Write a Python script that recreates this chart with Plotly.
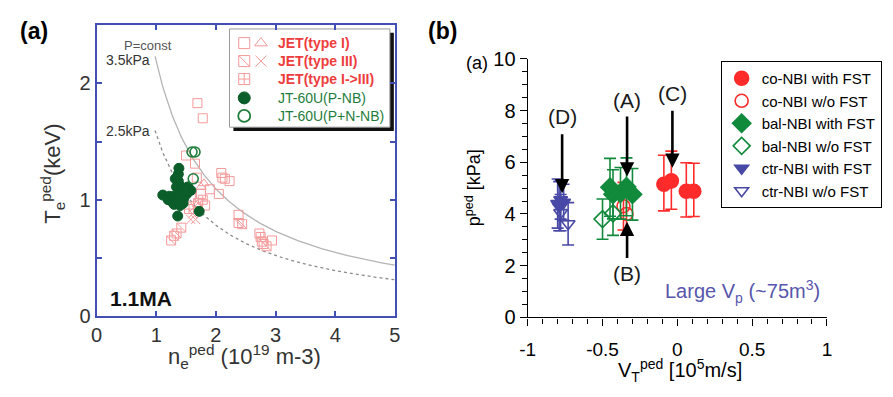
import numpy as np
import plotly.graph_objects as go

W, H = 893, 397
FONT = "Liberation Sans"

# ---------------- Panel (a): JET / JT-60U pedestal data ----------------
jet1_sq_n = [1.69, 1.78, 1.50, 1.65, 2.09, 2.15, 2.23, 1.90, 2.05, 1.75, 1.82, 2.38, 2.73, 2.94, 1.68, 1.58, 1.50, 2.11, 2.80]
jet1_sq_T = [1.83, 1.70, 1.38, 1.31, 1.23, 1.18, 1.16, 1.09, 1.05, 1.05, 0.95, 0.87, 0.71, 0.65, 1.19, 1.02, 1.06, 1.19, 0.62]
jet1_tri_n = [1.75, 1.69, 1.80]
jet1_tri_T = [1.11, 0.96, 1.14]
jet3_sq_n = [1.25, 1.34, 1.42, 1.30, 2.38, 2.44, 2.77, 2.85, 1.70]
jet3_sq_T = [0.65, 0.71, 0.76, 0.69, 0.80, 0.79, 0.64, 0.60, 0.97]
jet3_x_n = [1.58, 1.66, 1.61, 1.64]
jet3_x_T = [0.83, 0.83, 0.88, 0.94]
jet13_n = [1.78, 1.55, 2.75]
jet13_T = [1.00, 0.92, 0.68]
jt_pnb_n = [1.38, 1.37, 1.32, 1.37, 1.34, 1.42, 1.53, 1.11, 1.22, 1.30, 1.40, 1.51, 1.25, 1.37,
            1.45, 1.30, 1.40, 1.72, 1.36, 1.58, 1.46, 1.20, 1.48]
jt_pnb_T = [1.27, 1.22, 1.18, 1.16, 1.11, 1.11, 1.11, 1.04, 1.03, 1.03, 1.04, 1.05, 0.99, 0.99,
            0.97, 0.96, 0.95, 0.90, 0.86, 1.08, 1.01, 1.00, 1.08]
jt_pnnb_n = [1.60, 1.65, 1.62]
jt_pnnb_T = [1.41, 1.41, 1.18]

isobar_kpa = [3.5, 2.5]
isobar_labels = ["3.5kPa", "2.5kPa"]
isobar_n_start = 0.98
kpa_per_nT = 1.6  # 1e19 m^-3 * keV = 1.6 kPa

a_xticks = [0, 1, 2, 3, 4, 5]
a_yticks = [0, 1, 2]

a_legend_labels = ["JET(type I)", "JET(type III)", "JET(type I->III)", "JT-60U(P-NB)", "JT-60U(P+N-NB)"]

# ---------------- Panel (b): pedestal pressure vs toroidal rotation ----------------
co_fst_v = [-0.09, -0.04, 0.06, 0.11]
co_fst_p = [5.15, 5.28, 4.88, 4.88]
co_fst_eu = [1.12, 1.15, 1.10, 1.08]
co_fst_ed = [1.03, 1.10, 1.00, 0.98]

co_wo_v = [-0.36, -0.34]
co_wo_p = [4.30, 4.00]
co_wo_e = [0.92, 0.82]

bal_fst_v = [-0.45, -0.43, -0.38, -0.34, -0.30]
bal_fst_p = [5.03, 4.76, 4.80, 5.05, 4.76]
bal_fst_e = [1.12, 0.95, 1.00, 1.12, 1.00]

bal_wo_v = [-0.50, -0.43]
bal_wo_p = [3.80, 4.02]
bal_wo_e = [0.78, 0.85]

ctr_fst_v = [-0.80, -0.78, -0.76, -0.79]
ctr_fst_p = [4.40, 4.55, 4.45, 4.30]
ctr_fst_e = [0.95, 0.75, 0.70, 0.95]

ctr_wo_v = [-0.78, -0.73]
ctr_wo_p = [4.05, 3.62]
ctr_wo_e = [0.70, 0.82]

b_xticks = [-1, -0.5, 0, 0.5, 1]
b_xticktext = ["-1", "-0.5", "0", "0.5", "1"]
b_yticks = [0, 2, 4, 6, 8, 10]

# arrows: label, label position, tail, tip
arrow_labels = ["(D)", "(A)", "(C)", "(B)"]
arrow_label_v = [-0.77, -0.336, -0.033, -0.336]
arrow_label_p = [7.76, 8.38, 8.68, 1.69]
arrow_tail_v = [-0.77, -0.336, -0.033, -0.336]
arrow_tail_p = [7.14, 7.83, 8.05, 2.24]
arrow_tip_v = [-0.77, -0.336, -0.033, -0.336]
arrow_tip_p = [4.80, 5.45, 5.79, 3.70]

RED = "#ff2b2b"
GREEN = "#118a3c"
BLUE = "#4848a6"
PINK = "#f59a9a"
JETTXT = "#ee3d3d"
JTG = "#0b5d2a"
JTTXT = "#1f7d3c"
FRAME = "#4150b2"

fig = go.Figure()

# ---- isobars ----
n_curve = np.linspace(isobar_n_start, 5.0, 200)
for kpa, dash, col in zip(isobar_kpa, ["solid", "dot"], ["#b4b4b4", "#8c8c8c"]):
    fig.add_trace(go.Scatter(x=n_curve, y=kpa / (kpa_per_nT * n_curve), mode="lines",
                             line=dict(color=col, width=1.3, dash=dash),
                             xaxis="x", yaxis="y", showlegend=False, hoverinfo="skip"))

def amark(xs, ys, symbol, color, size=9, lw=1, fill=None, xa="x", ya="y"):
    fig.add_trace(go.Scatter(x=xs, y=ys, mode="markers", xaxis=xa, yaxis=ya, showlegend=False,
                             marker=dict(symbol=symbol, size=size,
                                         color=fill if fill else color,
                                         line=dict(color=color, width=lw))))

amark(jet1_sq_n, jet1_sq_T, "square-open", PINK)
amark(jet1_tri_n, jet1_tri_T, "triangle-up-open", PINK)
amark(jet3_sq_n, jet3_sq_T, "square-open", PINK)
amark(jet3_sq_n, jet3_sq_T, "line-nw-open", PINK)
amark(jet3_x_n, jet3_x_T, "x-thin-open", PINK)
amark(jet13_n, jet13_T, "square-cross-open", PINK)
amark(jt_pnb_n, jt_pnb_T, "circle", JTG, size=10, fill=JTG)
amark(jt_pnnb_n, jt_pnnb_T, "circle-open", JTTXT, size=10, lw=1.6)

# ---- panel (a) manual legend (overlay axis on the legend box) ----
row_y = [0.856, 0.673, 0.490, 0.298, 0.115]
mx1, mx2, tx = 0.092, 0.196, 0.288
amark([mx1], [row_y[0]], "square-open", PINK, size=11, xa="x3", ya="y3")
amark([mx2], [row_y[0]], "triangle-up-open", PINK, size=11, xa="x3", ya="y3")
amark([mx1], [row_y[1]], "square-open", PINK, size=11, xa="x3", ya="y3")
amark([mx1], [row_y[1]], "line-nw-open", PINK, size=11, xa="x3", ya="y3")
amark([mx2], [row_y[1]], "x-thin-open", PINK, size=11, xa="x3", ya="y3")
amark([mx1], [row_y[2]], "square-cross-open", PINK, size=11, xa="x3", ya="y3")
amark([mx1], [row_y[3]], "circle", JTG, size=12, fill=JTG, xa="x3", ya="y3")
amark([mx1], [row_y[4]], "circle-open", JTTXT, size=12, lw=1.8, xa="x3", ya="y3")

annotations = []
for i, lab in enumerate(a_legend_labels):
    annotations.append(dict(x=tx, y=row_y[i], xref="x3", yref="y3", text="<b>%s</b>" % lab if i < 3 else lab,
                            showarrow=False, xanchor="left", yanchor="middle",
                            font=dict(family=FONT, size=14, color=JETTXT if i < 3 else JTTXT)))

# ---- panel (b) data ----
def bmark(name, xs, ys, eu, ed, symbol, color, size):
    fig.add_trace(go.Scatter(x=xs, y=ys, mode="markers", name=name, xaxis="x2", yaxis="y2",
                             marker=dict(symbol=symbol, size=size, color=color,
                                         line=dict(color=color, width=1.6)),
                             error_y=dict(type="data", symmetric=False, array=eu, arrayminus=ed,
                                          color=color, thickness=1.6, width=6)))

bmark("co-NBI with FST", co_fst_v, co_fst_p, co_fst_eu, co_fst_ed, "circle", RED, 14)
bmark("co-NBI w/o FST", co_wo_v, co_wo_p, co_wo_e, co_wo_e, "circle-open", RED, 13)
bmark("bal-NBI with FST", bal_fst_v, bal_fst_p, bal_fst_e, bal_fst_e, "diamond", GREEN, 14)
bmark("bal-NBI w/o FST", bal_wo_v, bal_wo_p, bal_wo_e, bal_wo_e, "diamond-open", GREEN, 13)
bmark("ctr-NBI with FST", ctr_fst_v, ctr_fst_p, ctr_fst_e, ctr_fst_e, "triangle-down", BLUE, 12)
bmark("ctr-NBI w/o FST", ctr_wo_v, ctr_wo_p, ctr_wo_e, ctr_wo_e, "triangle-down-open", BLUE, 12)

for i, lab in enumerate(arrow_labels):
    annotations.append(dict(x=arrow_tip_v[i], y=arrow_tip_p[i], ax=arrow_tail_v[i], ay=arrow_tail_p[i],
                            xref="x2", yref="y2", axref="x2", ayref="y2", text="", showarrow=True,
                            arrowhead=2, arrowsize=1.1, arrowwidth=2.6, arrowcolor="black"))
    annotations.append(dict(x=arrow_label_v[i], y=arrow_label_p[i], xref="x2", yref="y2", text=lab,
                            showarrow=False, font=dict(family=FONT, size=21, color="#1a1a1a")))

# ---- texts ----
def ptxt(x, y, text, size, color="black", angle=0, xanchor="center", bold=False):
    annotations.append(dict(x=x / W, y=(H - y) / H, xref="paper", yref="paper",
                            text="<b>%s</b>" % text if bold else text, showarrow=False,
                            textangle=angle, xanchor=xanchor, yanchor="middle",
                            font=dict(family=FONT, size=size, color=color)))

ptxt(26, 21, "(a)", 23, bold=True)
ptxt(441, 21, "(b)", 23, bold=True)
ptxt(135, 304, "1.1MA", 21, color="#111", bold=True)
ptxt(142, 37, "P=const", 13, color="#555")
ptxt(122, 52, isobar_labels[0], 14, color="#333")
ptxt(122, 127, isobar_labels[1], 14, color="#333")
ptxt(240, 366, "n<sub>e</sub><sup>ped</sup> (10<sup>19</sup> m-3)", 22, color="#333")
ptxt(45, 172, "T<sub>e</sub><sup>ped</sup>(keV)", 22, color="#333", angle=-90)
ptxt(473, 187, "p<sup>ped</sup> [kPa]", 18, angle=-90)
ptxt(683, 381, "V<sub>T</sub><sup>ped</sup> [10<sup>5</sup>m/s]", 20)
ptxt(476, 55, "(a)", 18)
ptxt(746, 297, "Large V<sub>p</sub> (~75m<sup>3</sup>)", 20, color="#5656ac")

# legend box for panel (a): shadow + box
shapes = [
    dict(type="rect", xref="paper", yref="paper", x0=229 / W, x1=392 / W, y0=(H - 127) / H, y1=(H - 23) / H,
         fillcolor="#111", line=dict(width=0), layer="below"),
    dict(type="rect", xref="paper", yref="paper", x0=225 / W, x1=388 / W, y0=(H - 123) / H, y1=(H - 19) / H,
         fillcolor="white", line=dict(color="#999", width=1), layer="below"),
]

tickfont_a = dict(family=FONT, size=20, color="#333")

fig.update_layout(
    width=W, height=H, margin=dict(l=0, r=0, t=0, b=0),
    paper_bgcolor="white", plot_bgcolor="rgba(0,0,0,0)",
    annotations=annotations, shapes=shapes,
    xaxis=dict(domain=[90 / W, 393 / W], range=[0, 5], anchor="y",
               tickvals=a_xticks, ticks="inside", ticklen=5, tickwidth=1.5, tickcolor=FRAME,
               showline=True, linecolor=FRAME, linewidth=2, mirror="ticks",
               showgrid=False, zeroline=False, tickfont=tickfont_a),
    yaxis=dict(domain=[(H - 323) / H, (H - 15) / H], range=[0, 2.5], anchor="x",
               tickvals=a_yticks, ticks="inside", ticklen=5, tickwidth=1.5, tickcolor=FRAME,
               minor=dict(dtick=0.5, ticks="inside", ticklen=5, tickwidth=1.5, tickcolor=FRAME, showgrid=False),
               showline=True, linecolor=FRAME, linewidth=2, mirror="ticks",
               showgrid=False, zeroline=False, tickfont=tickfont_a),
    xaxis2=dict(domain=[528 / W, 832 / W], range=[-1, 1], anchor="y2",
                tickvals=b_xticks, ticktext=b_xticktext, ticks="outside", ticklen=7, tickwidth=1.3,
                tickcolor="black", ticklabelstandoff=8,
                minor=dict(tickvals=[v / 10 for v in range(-10, 11)], ticks="outside", ticklen=5,
                           tickwidth=1.2, tickcolor="black", showgrid=False),
                showline=True, linecolor="black", linewidth=1.4,
                showgrid=False, zeroline=False, tickfont=dict(family=FONT, size=19, color="black")),
    yaxis2=dict(domain=[(H - 324.3) / H, (H - 50.7) / H], range=[0, 10], anchor="x2",
                tickvals=b_yticks, ticks="outside", ticklen=7, tickwidth=1.3, tickcolor="black",
                minor=dict(dtick=0.5, ticks="outside", ticklen=5, tickwidth=1.2, tickcolor="black", showgrid=False),
                showline=True, linecolor="black", linewidth=1.4,
                showgrid=False, zeroline=False, tickfont=dict(family=FONT, size=20, color="black")),
    xaxis3=dict(domain=[225 / W, 388 / W], range=[0, 1], anchor="y3", visible=False),
    yaxis3=dict(domain=[(H - 123) / H, (H - 19) / H], range=[0, 1], anchor="x3", visible=False),
    legend=dict(x=724 / W, y=(H - 53) / H, xanchor="left", yanchor="top",
                bordercolor="black", borderwidth=1, bgcolor="white",
                font=dict(family=FONT, size=15, color="black"), tracegroupgap=0,
                itemsizing="trace"),
    showlegend=True,
)

fig.write_html("out.html")
